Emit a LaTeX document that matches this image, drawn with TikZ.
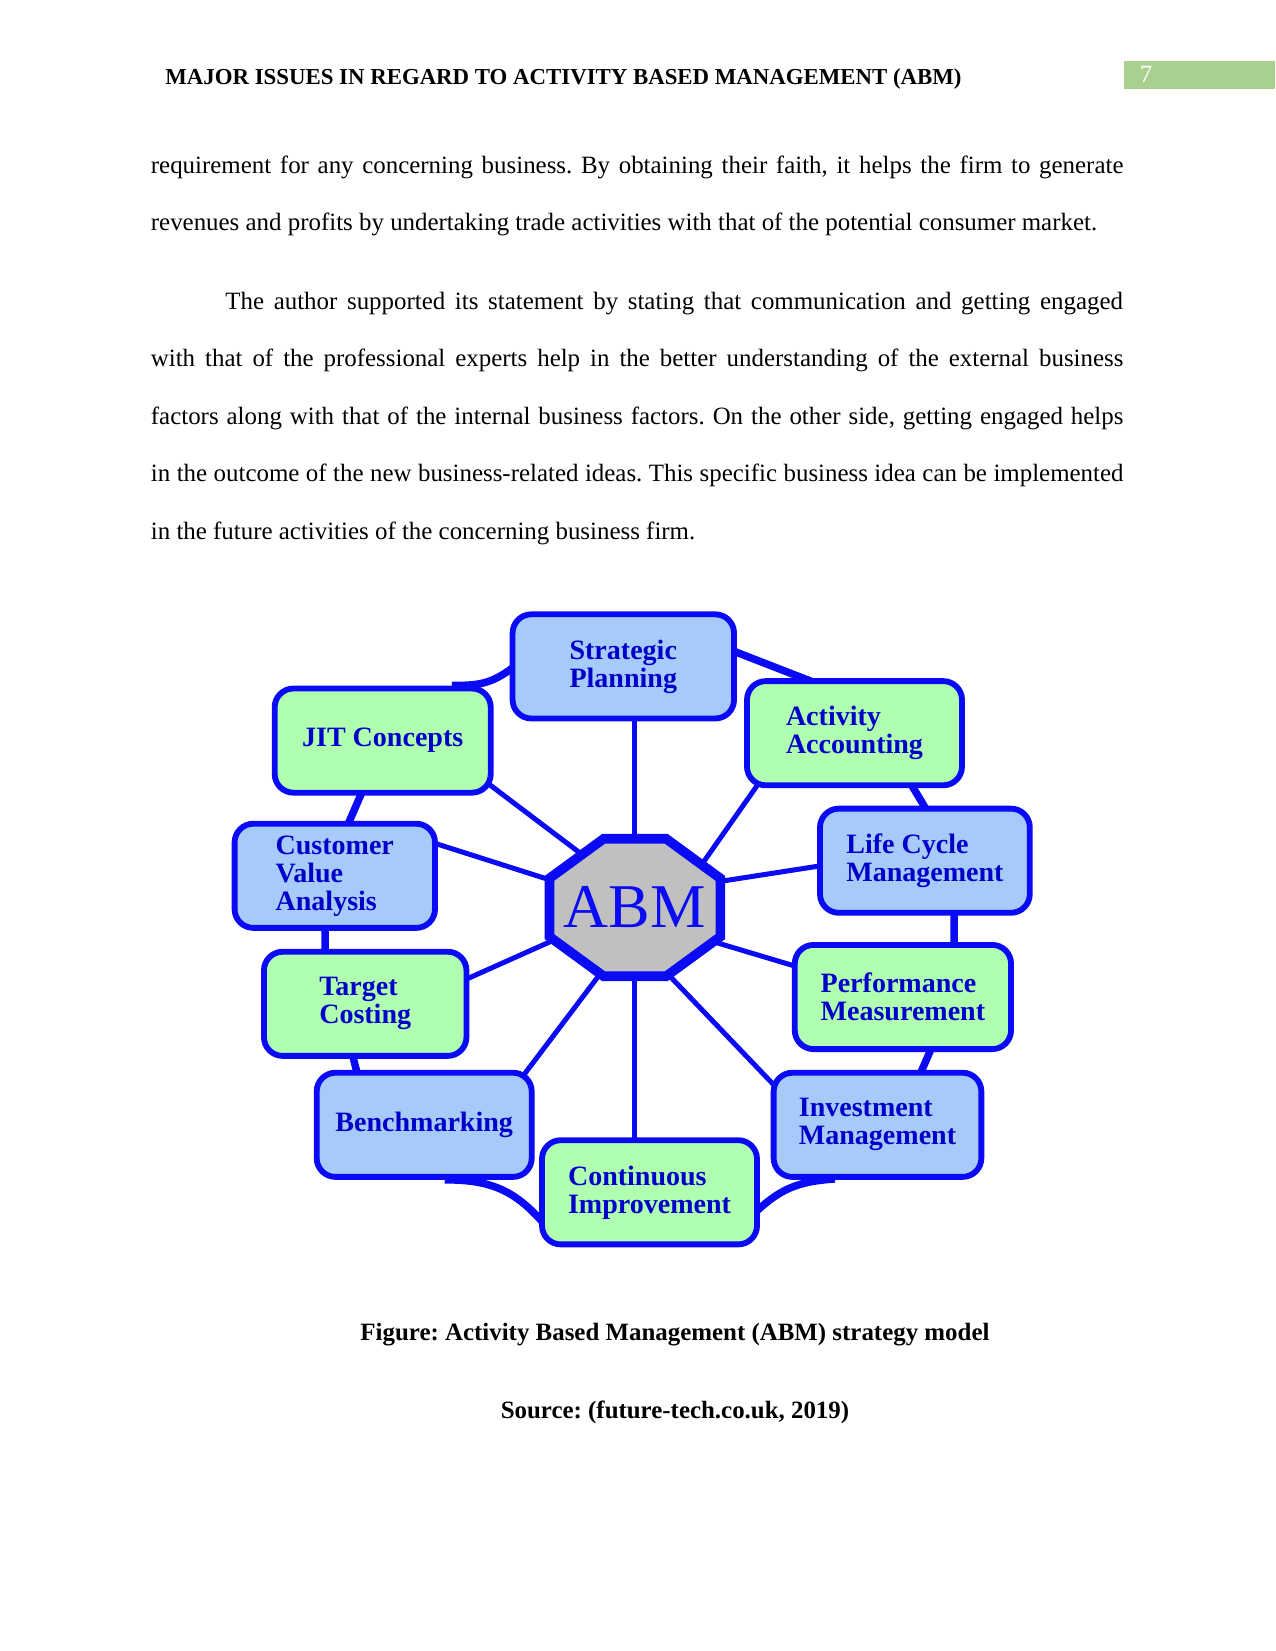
\documentclass[tikz,border=0pt]{standalone}
\usepackage{fontspec}
\setmainfont{Liberation Serif}
\usetikzlibrary{calc, backgrounds}
\definecolor{lineBlue}{RGB}{10,10,245}
\definecolor{labelBlue}{RGB}{0,0,200}
\definecolor{fillBlue}{RGB}{166,202,250}
\definecolor{fillGreen}{RGB}{176,255,176}
\definecolor{hubGray}{RGB}{192,192,192}
\definecolor{pageGreen}{RGB}{169,208,142}
\newcommand{\fullline}[1]{\makebox[466.8bp][s]{#1}}
\frenchspacing

\tikzset{
  topic/.style={rectangle, rounded corners=9bp, draw=lineBlue, line width=2.8bp,
    minimum height=50bp, inner sep=2bp, align=left, text=labelBlue,
    font=\bfseries\fontsize{13.5}{13.5}\selectfont},
  bluetopic/.style={topic, fill=fillBlue},
  greentopic/.style={topic, fill=fillGreen},
  hub/.style={draw=lineBlue, fill=hubGray, line width=4.6bp, line join=miter},
  spoke/.style={lineBlue, line width=2.4bp, shorten <=-6bp, shorten >=-14bp},
  ring/.style={lineBlue, line width=3.6bp, shorten <=-6bp, shorten >=-6bp},
  bodyline/.style={anchor=base west, inner sep=0pt, font=\fontsize{12}{14}\selectfont}
}

\begin{document}
\begin{tikzpicture}[x=0.48bp, y=-0.48bp]
    \useasboundingbox (0,0) rectangle (1275,1651);
    % running head
    \node[anchor=base west, inner sep=0pt, font=\bfseries\fontsize{11}{13}\selectfont] (header) at (165,84)
        {MAJOR ISSUES IN REGARD TO ACTIVITY BASED MANAGEMENT (ABM)};
    \fill[pageGreen] (1124,61) rectangle (1275,89);
    \node[text=white, inner sep=0pt, font=\fontsize{12}{14}\selectfont] (pageno) at (1146,74) {7};
    % body text
    \node[bodyline] (line1) at (150.5,173) {\fullline{requirement for any concerning business. By obtaining their faith, it helps the firm to generate}};
    \node[bodyline] (line2) at (150.5,230) {revenues and profits by undertaking trade activities with that of the potential consumer market.};
    \node[bodyline] (line3) at (225,309) {\makebox[430.8bp][s]{The author supported its statement by stating that communication and getting engaged}};
    \node[bodyline] (line4) at (150.5,366) {\fullline{with that of the professional experts help in the better understanding of the external business}};
    \node[bodyline] (line5) at (150.5,424) {\fullline{factors along with that of the internal business factors. On the other side, getting engaged helps}};
    \node[bodyline] (line6) at (150.5,481) {\fullline{in the outcome of the new business-related ideas. This specific business idea can be implemented}};
    \node[bodyline] (line7) at (150.5,539) {in the future activities of the concerning business firm.};

    % ABM wheel
    \node[minimum width=82bp, minimum height=66bp, outer sep=0pt, text=lineBlue,
        font=\fontsize{30}{30}\selectfont] (abm) at (634.9,907.5) {ABM};
    \node[bluetopic, minimum width=106.3bp] (plan) at (623.3,666.4) {Strategic\\Planning};
    \node[greentopic, minimum width=103.2bp] (actacc) at (854.5,733.2) {Activity\\Accounting};
    \node[bluetopic, minimum width=100.7bp] (life) at (924.9,860.7) {Life Cycle\\Management};
    \node[greentopic, minimum width=103.8bp] (perf) at (902.9,997) {Performance\\Measurement};
    \node[bluetopic, minimum width=99.7bp] (invest) at (877.5,1124.8) {Investment\\Management};
    \node[greentopic, minimum width=103.2bp] (improve) at (649.5,1192.3) {Continuous\\Improvement};
    \node[bluetopic, minimum width=103.2bp] (bench) at (424.2,1124.8) {Benchmarking};
    \node[greentopic, minimum width=97.2bp] (target) at (365.2,1003.8) {Target\\Costing};
    \node[bluetopic, minimum width=96.2bp] (custval) at (334.8,875.8) {Customer\\Value\\Analysis};
    \node[greentopic, minimum width=103.7bp] (jit) at (382.7,740.6) {JIT Concepts};

    \begin{pgfonlayer}{background}
        % spokes to the hub
        \draw[spoke] (plan.south -| abm.north) -- (abm.north);
        \draw[spoke] (jit.-23) -- (abm.137);
        \draw[spoke] (custval.17) -- (abm.162);
        \draw[spoke] (target.14) -- (abm.202);
        \draw[spoke] (bench.28) -- (abm.242);
        \draw[spoke] (improve.north -| abm.south) -- (abm.south);
        \draw[spoke] (invest.158) -- (abm.-63);
        \draw[spoke] (perf.164) -- (abm.-23);
        \draw[spoke] (life.183) -- (abm.17);
        \draw[spoke] (actacc.209) -- (abm.39);

        % outer ring
        \draw[ring] (plan.7) -- (actacc.133);
        \draw[ring] (actacc.-43) -- (life.91);
        \draw[ring] (life.-62) -- (perf.47);
        \draw[ring] (perf.-64) -- (invest.51);
        \draw[ring] (invest.225) to[bend right=20] (improve.-8);
        \draw[ring] (improve.193) to[bend right=25] (bench.-59);
        \draw[ring] (bench.141) -- (target.-102);
        \draw[ring] (target.126) -- (custval.-100);
        \draw[ring] (custval.75) -- (jit.-112);
        \draw[ring] (jit.34) to[bend right=20] (plan.182);

        % octagonal hub
        \filldraw[hub] ($(abm.north west)+(26bp,0)$) -- ($(abm.north east)+(-26bp,0)$)
            -- ($(abm.north east)+(0,-19bp)$) -- ($(abm.south east)+(0,19bp)$)
            -- ($(abm.south east)+(-26bp,0)$) -- ($(abm.south west)+(26bp,0)$)
            -- ($(abm.south west)+(0,19bp)$) -- ($(abm.north west)+(0,-19bp)$) -- cycle;
    \end{pgfonlayer}

    % caption
    \node[anchor=base, inner sep=0pt, font=\bfseries\fontsize{12}{14}\selectfont] (caption) at (675,1340)
        {Figure: Activity Based Management (ABM) strategy model};
    \node[anchor=base, inner sep=0pt, font=\bfseries\fontsize{12}{14}\selectfont] (source) at (675,1418)
        {Source: (future-tech.co.uk, 2019)};
\end{tikzpicture}
\end{document}
